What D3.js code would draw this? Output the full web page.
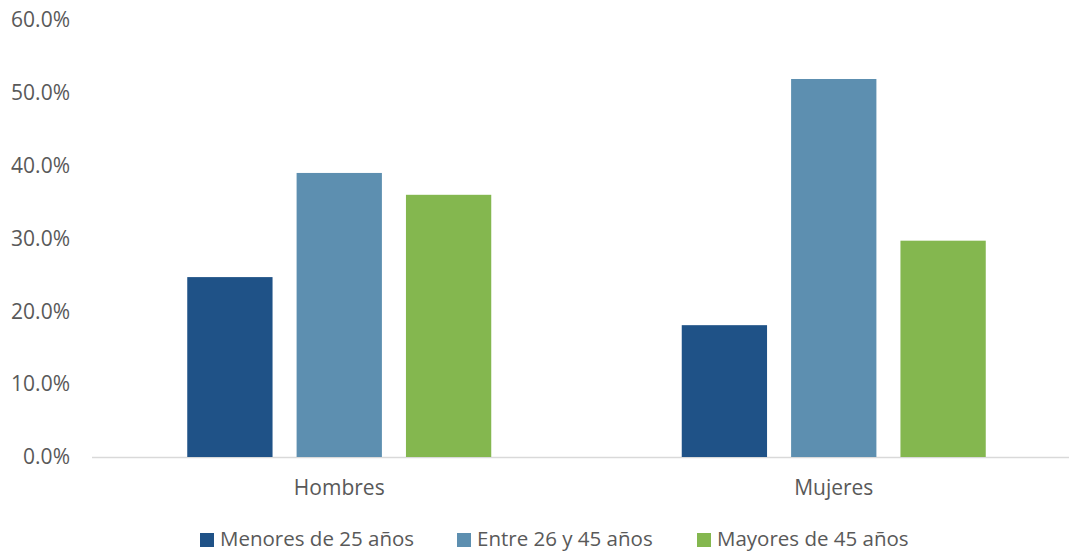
<!DOCTYPE html>
<html><head><meta charset="utf-8">
<script src="https://cdn.jsdelivr.net/npm/d3@7"></script>
<style>body{margin:0;background:#fff}svg{display:block}text{font-family:"Open Sans","Noto Sans",sans-serif;fill:#595959}</style>
</head><body><svg id="c" width="1069" height="551"></svg>
<script>
const categories = ["Hombres", "Mujeres"];
const seriesNames = ["Menores de 25 años", "Entre 26 y 45 años", "Mayores de 45 años"];
const menores = [24.7, 18.1];
const entre = [39.0, 51.9];
const mayores = [36.0, 29.7];
const yTicks = [0, 10, 20, 30, 40, 50, 60];
const colors = ["#1f5287", "#5d8fb0", "#84b74f"];

const series = [menores, entre, mayores];
const svg = d3.select("#c");
const x0 = d3.scaleBand().domain(categories).range([92, 1081]).paddingInner(0).paddingOuter(0);
const y = d3.scaleLinear().domain([0, 60]).range([457, 20]);
const innerW = 304;
const x1 = d3.scaleBand().domain(seriesNames).range([0, innerW]).paddingInner(0.22);

// baseline
svg.append("line").attr("x1", 92).attr("x2", 1081).attr("y1", y(0)+0.5).attr("y2", y(0)+0.5)
  .attr("stroke", "#d9d9d9").attr("stroke-width", 1.3);

// y axis labels
const yAxis = d3.axisLeft(y).tickValues(yTicks).tickSize(0).tickPadding(0).tickFormat(d => d.toFixed(1) + "%");
const gy = svg.append("g").attr("transform", "translate(70,0)").call(yAxis);
gy.select(".domain").remove();
gy.selectAll("text").style("font-size", "21px").attr("fill", "#595959").style("font-family", null);

// bars
categories.forEach((c, ci) => {
  const gx = x0(c) + (x0.bandwidth() - innerW) / 2;
  seriesNames.forEach((s, si) => {
    const v = series[si][ci];
    svg.append("rect").attr("x", gx + x1(s)).attr("width", x1.bandwidth())
      .attr("y", y(v)).attr("height", y(0) - y(v)).attr("fill", colors[si]);
  });
});

// x axis labels
const xAxis = d3.axisBottom(x0).tickSize(0).tickPadding(0);
const gx = svg.append("g").attr("transform", "translate(0,480)").call(xAxis);
gx.select(".domain").remove();
gx.selectAll("text").style("font-size", "21px").attr("fill", "#595959").style("font-family", null);

// legend
const legX = [200, 457, 697];
seriesNames.forEach((s, i) => {
  svg.append("rect").attr("x", legX[i]).attr("y", 533).attr("width", 14).attr("height", 14).attr("fill", colors[i]);
  svg.append("text").attr("x", legX[i] + 20).attr("y", 546).style("font-size", "20.5px").text(s);
});
</script></body></html>
